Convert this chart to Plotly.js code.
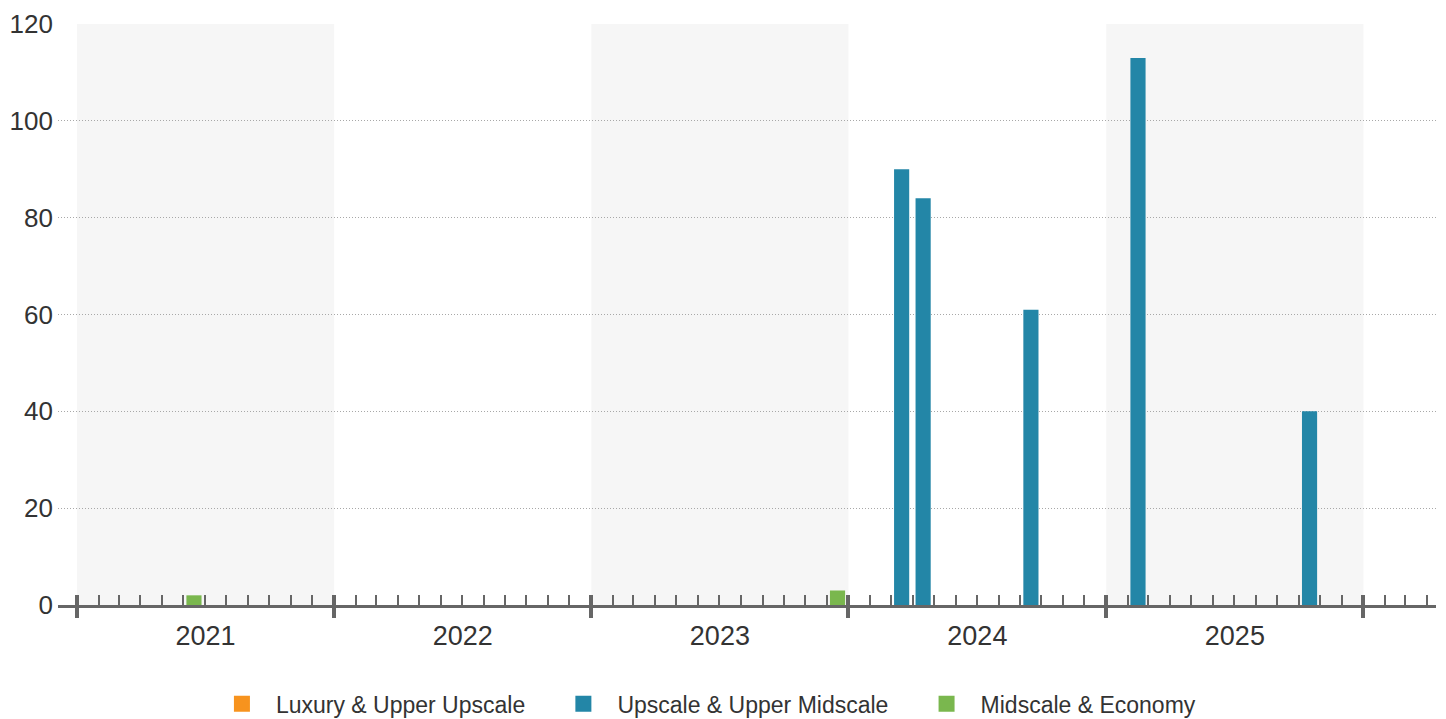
<!DOCTYPE html>
<html>
<head>
<meta charset="utf-8">
<script src="https://cdn.plot.ly/plotly-3.0.1.min.js"></script>
<style>
  html, body { margin: 0; padding: 0; background: #ffffff; }
  #chart { width: 1446px; height: 719px; }
</style>
</head>
<body>
<div id="chart"></div>
<script>
// Monthly hotel openings (rooms) by chain scale segment
const luxuryMonths = [];
const luxuryCounts = [];

const upscaleMonths = ['2024-03', '2024-04', '2024-09', '2025-02', '2025-10'];
const upscaleCounts = [90, 84, 61, 113, 40];

const midscaleMonths = ['2021-06', '2023-12'];
const midscaleCounts = [2, 3];

const seriesNames = ['Luxury & Upper Upscale', 'Upscale & Upper Midscale', 'Midscale & Economy'];
const seriesColors = ['#F7931E', '#2386A7', '#7AB74E'];

const yearTicks = ['2021-01-01', '2022-01-01', '2023-01-01', '2024-01-01', '2025-01-01', '2026-01-01'];
const shadedYears = [2021, 2023, 2025];
const xRange = ['2020-12-05', '2026-04-14'];

const FONT = 'Liberation Sans, Arial, sans-serif';
const AXIS_GREY = '#666666';
const DAY_MS = 86400000;
const barWidth = 21.5 * DAY_MS;

function barTrace(months, counts, idx) {
  return {
    type: 'bar',
    x: months,
    y: counts,
    xperiod: 'M1',
    xperiodalignment: 'middle',
    width: months.map(() => barWidth),
    marker: { color: seriesColors[idx], line: { width: 0 } },
    name: seriesNames[idx],
    showlegend: false,
    hovertemplate: '%{x|%b %Y}: %{y}<extra>' + seriesNames[idx] + '</extra>'
  };
}

// legend entries with larger square swatches (placed on the overlay axis so it gets drawn)
function legendTrace(idx) {
  return {
    type: 'scatter',
    mode: 'markers',
    x: [null],
    y: [null],
    xaxis: 'x2',
    name: seriesNames[idx] + '\u00a0\u00a0\u00a0',
    marker: { symbol: 'square', size: 18, color: seriesColors[idx] },
    showlegend: true,
    hoverinfo: 'skip'
  };
}

const data = [
  barTrace(luxuryMonths, luxuryCounts, 0),
  barTrace(upscaleMonths, upscaleCounts, 1),
  barTrace(midscaleMonths, midscaleCounts, 2),
  legendTrace(0),
  legendTrace(1),
  legendTrace(2)
];

const shapes = shadedYears.map(y => ({
  type: 'rect',
  xref: 'x',
  yref: 'paper',
  x0: y + '-01-01',
  x1: (y + 1) + '-01-01',
  y0: 0,
  y1: 1,
  layer: 'below',
  fillcolor: '#F6F6F6',
  line: { width: 0 }
}));

const layout = {
  width: 1446,
  height: 719,
  margin: { l: 58, r: 10, t: 24, b: 114, autoexpand: false },
  paper_bgcolor: '#ffffff',
  plot_bgcolor: '#ffffff',
  font: { family: FONT, color: '#333333' },
  barmode: 'overlay',
  showlegend: true,
  legend: {
    orientation: 'h',
    yref: 'container',
    x: 0.476,
    xanchor: 'center',
    y: 0.021,
    yanchor: 'middle',
    itemwidth: 58,
    font: { family: FONT, size: 23, color: '#333333' }
  },
  // year ticks pointing up, month ticks in between, year labels centred on each year
  xaxis: {
    type: 'date',
    range: xRange,
    tickmode: 'linear',
    tick0: '2021-01-01',
    dtick: 'M12',
    ticklabelmode: 'period',
    tickformat: '%Y',
    ticks: 'inside',
    ticklen: 10,
    tickwidth: 3.5,
    tickcolor: AXIS_GREY,
    ticklabelstandoff: 5,
    tickfont: { family: FONT, size: 27, color: '#333333' },
    showline: true,
    linecolor: AXIS_GREY,
    linewidth: 3,
    showgrid: false,
    zeroline: false,
    fixedrange: true,
    minor: {
      ticks: 'inside',
      tick0: '2021-01-01',
      dtick: 'M1',
      ticklen: 10,
      tickwidth: 2,
      tickcolor: AXIS_GREY,
      showgrid: false
    }
  },
  // downward halves of the year ticks
  xaxis2: {
    type: 'date',
    overlaying: 'x',
    anchor: 'y',
    side: 'bottom',
    range: xRange,
    tickmode: 'array',
    tickvals: yearTicks,
    ticks: 'outside',
    ticklen: 10,
    tickwidth: 3.5,
    tickcolor: AXIS_GREY,
    showticklabels: false,
    showline: true,
    linecolor: AXIS_GREY,
    linewidth: 3,
    showgrid: false,
    zeroline: false,
    fixedrange: true
  },
  yaxis: {
    range: [0, 120],
    tickmode: 'linear',
    tick0: 0,
    dtick: 20,
    showgrid: true,
    gridcolor: '#A8A8A8',
    gridwidth: 1,
    griddash: '1px,2px',
    zeroline: false,
    showline: false,
    ticks: '',
    ticklabelstandoff: 4,
    tickfont: { family: FONT, size: 26, color: '#333333' },
    fixedrange: true
  },
  shapes: shapes
};

Plotly.newPlot('chart', data, layout, { displayModeBar: false });
</script>
</body>
</html>
